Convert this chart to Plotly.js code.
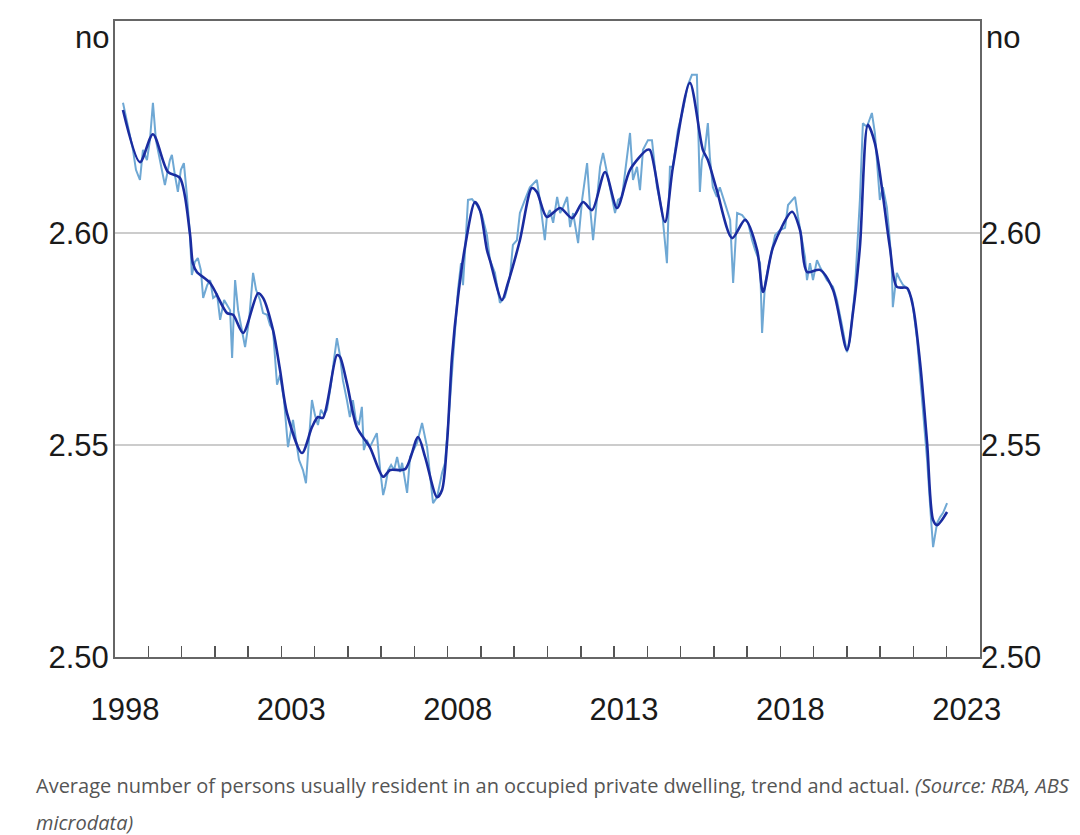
<!DOCTYPE html>
<html>
<head>
<meta charset="utf-8">
<script src="https://cdn.plot.ly/plotly-3.0.1.min.js"></script>
<style>
  html, body { margin: 0; padding: 0; background: #ffffff; }
  #chart { width: 1080px; height: 835px; }
</style>
</head>
<body>
<div id="chart"></div>
<script>
// Trend series (decimal year, persons per dwelling)
const trendYears = [1998.24, 1998.75, 1999.14, 1999.59, 1999.95, 2000.25, 2000.34, 2000.46, 2000.86, 2001.37, 2001.55, 2001.85, 2002.30, 2002.45, 2002.75, 2002.96, 2003.17, 2003.62, 2003.92, 2004.10, 2004.25, 2004.67, 2004.76, 2004.97, 2005.27, 2005.66, 2006.06, 2006.27, 2006.72, 2007.11, 2007.32, 2007.68, 2007.83, 2007.98, 2008.13, 2008.31, 2008.52, 2008.82, 2008.97, 2009.18, 2009.27, 2009.63, 2009.81, 2010.17, 2010.53, 2010.68, 2010.98, 2011.38, 2011.74, 2012.07, 2012.34, 2012.73, 2013.09, 2013.48, 2013.99, 2014.08, 2014.53, 2014.77, 2015.28, 2015.67, 2015.82, 2016.09, 2016.55, 2016.94, 2017.30, 2017.48, 2017.78, 2018.35, 2018.59, 2018.80, 2019.19, 2019.58, 2020.00, 2020.18, 2020.39, 2020.63, 2020.84, 2021.29, 2021.50, 2021.81, 2021.99, 2022.20, 2022.41, 2022.59, 2022.71, 2023.01];
const trendValues = [2.6290, 2.6167, 2.6233, 2.6144, 2.6130, 2.6000, 2.5929, 2.5908, 2.5882, 2.5811, 2.5807, 2.5764, 2.5858, 2.5847, 2.5771, 2.5677, 2.5575, 2.5481, 2.5542, 2.5566, 2.5564, 2.5712, 2.5708, 2.5646, 2.5542, 2.5495, 2.5425, 2.5441, 2.5443, 2.5519, 2.5472, 2.5377, 2.5394, 2.5505, 2.5708, 2.5849, 2.5967, 2.6073, 2.6054, 2.5960, 2.5936, 2.5842, 2.5882, 2.5983, 2.6106, 2.6097, 2.6038, 2.6059, 2.6035, 2.6073, 2.6054, 2.6144, 2.6059, 2.6149, 2.6196, 2.6196, 2.6026, 2.6156, 2.6354, 2.6196, 2.6172, 2.6101, 2.5988, 2.6031, 2.5960, 2.5861, 2.5967, 2.6050, 2.6007, 2.5908, 2.5913, 2.5866, 2.5724, 2.5811, 2.5967, 2.6255, 2.6212, 2.5967, 2.5873, 2.5870, 2.5825, 2.5693, 2.5505, 2.5323, 2.5311, 2.5342];

// Actual series
const actualYears = [1998.24, 1998.39, 1998.54, 1998.63, 1998.75, 1998.84, 1998.96, 1999.05, 1999.14, 1999.23, 1999.35, 1999.50, 1999.65, 1999.71, 1999.80, 1999.89, 1999.98, 2000.07, 2000.16, 2000.25, 2000.31, 2000.40, 2000.49, 2000.58, 2000.65, 2000.77, 2000.86, 2000.95, 2001.07, 2001.16, 2001.28, 2001.37, 2001.46, 2001.52, 2001.61, 2001.70, 2001.82, 2001.91, 2002.03, 2002.15, 2002.24, 2002.36, 2002.45, 2002.57, 2002.66, 2002.75, 2002.87, 2002.96, 2003.08, 2003.20, 2003.29, 2003.35, 2003.44, 2003.53, 2003.65, 2003.74, 2003.83, 2003.92, 2004.01, 2004.10, 2004.19, 2004.28, 2004.37, 2004.49, 2004.58, 2004.67, 2004.76, 2004.85, 2004.97, 2005.06, 2005.15, 2005.24, 2005.33, 2005.42, 2005.48, 2005.57, 2005.66, 2005.78, 2005.87, 2005.97, 2006.06, 2006.12, 2006.21, 2006.30, 2006.39, 2006.48, 2006.57, 2006.63, 2006.78, 2006.87, 2007.08, 2007.23, 2007.38, 2007.56, 2007.68, 2007.83, 2007.92, 2008.07, 2008.22, 2008.31, 2008.40, 2008.46, 2008.55, 2008.61, 2008.73, 2008.88, 2009.03, 2009.18, 2009.27, 2009.42, 2009.57, 2009.72, 2009.87, 2009.96, 2010.08, 2010.17, 2010.32, 2010.47, 2010.68, 2010.77, 2010.92, 2010.98, 2011.07, 2011.17, 2011.29, 2011.38, 2011.47, 2011.59, 2011.68, 2011.77, 2011.92, 2012.04, 2012.19, 2012.28, 2012.37, 2012.58, 2012.67, 2012.88, 2013.03, 2013.12, 2013.24, 2013.33, 2013.48, 2013.57, 2013.69, 2013.78, 2013.87, 2014.02, 2014.14, 2014.29, 2014.44, 2014.59, 2014.68, 2014.77, 2014.92, 2015.07, 2015.22, 2015.34, 2015.49, 2015.58, 2015.64, 2015.73, 2015.82, 2015.88, 2015.97, 2016.09, 2016.18, 2016.33, 2016.49, 2016.58, 2016.70, 2016.85, 2017.03, 2017.15, 2017.24, 2017.39, 2017.45, 2017.54, 2017.69, 2017.84, 2017.99, 2018.14, 2018.23, 2018.35, 2018.44, 2018.53, 2018.65, 2018.74, 2018.80, 2018.89, 2018.98, 2019.10, 2019.19, 2019.40, 2019.58, 2019.70, 2019.85, 2020.00, 2020.09, 2020.24, 2020.39, 2020.48, 2020.60, 2020.75, 2020.84, 2020.93, 2020.99, 2021.08, 2021.20, 2021.29, 2021.35, 2021.38, 2021.50, 2021.60, 2021.69, 2021.81, 2021.96, 2022.11, 2022.26, 2022.41, 2022.53, 2022.59, 2022.71, 2022.80, 2022.89, 2023.01];
const actualValues = [2.6307, 2.6255, 2.6196, 2.6149, 2.6125, 2.6196, 2.6172, 2.6219, 2.6307, 2.6219, 2.6172, 2.6113, 2.6172, 2.6184, 2.6137, 2.6097, 2.6149, 2.6165, 2.6090, 2.6000, 2.5901, 2.5932, 2.5941, 2.5913, 2.5847, 2.5877, 2.5889, 2.5847, 2.5854, 2.5795, 2.5842, 2.5830, 2.5818, 2.5705, 2.5889, 2.5818, 2.5771, 2.5731, 2.5795, 2.5906, 2.5866, 2.5842, 2.5811, 2.5807, 2.5783, 2.5771, 2.5642, 2.5665, 2.5606, 2.5495, 2.5535, 2.5559, 2.5512, 2.5465, 2.5441, 2.5410, 2.5512, 2.5606, 2.5571, 2.5547, 2.5583, 2.5571, 2.5583, 2.5642, 2.5700, 2.5752, 2.5712, 2.5653, 2.5606, 2.5566, 2.5606, 2.5559, 2.5547, 2.5590, 2.5488, 2.5512, 2.5495, 2.5512, 2.5528, 2.5441, 2.5382, 2.5401, 2.5441, 2.5453, 2.5441, 2.5472, 2.5436, 2.5458, 2.5387, 2.5472, 2.5505, 2.5552, 2.5495, 2.5363, 2.5377, 2.5434, 2.5458, 2.5606, 2.5771, 2.5866, 2.5929, 2.5877, 2.5995, 2.6078, 2.6080, 2.6066, 2.6042, 2.5995, 2.5936, 2.5906, 2.5835, 2.5849, 2.5896, 2.5972, 2.5983, 2.6047, 2.6078, 2.6108, 2.6125, 2.6078, 2.5983, 2.6038, 2.6054, 2.6024, 2.6085, 2.6047, 2.6061, 2.6085, 2.6014, 2.6047, 2.5976, 2.6078, 2.6165, 2.6061, 2.5983, 2.6156, 2.6189, 2.6108, 2.6047, 2.6078, 2.6085, 2.6142, 2.6236, 2.6125, 2.6156, 2.6101, 2.6196, 2.6219, 2.6219, 2.6108, 2.6054, 2.5929, 2.6156, 2.6156, 2.6243, 2.6290, 2.6349, 2.6373, 2.6373, 2.6097, 2.6172, 2.6196, 2.6259, 2.6179, 2.6108, 2.6085, 2.6108, 2.6071, 2.6031, 2.5882, 2.6047, 2.6042, 2.6024, 2.5983, 2.5960, 2.5929, 2.5764, 2.5882, 2.5936, 2.5995, 2.6007, 2.6012, 2.6066, 2.6078, 2.6085, 2.6038, 2.5983, 2.5943, 2.5889, 2.5929, 2.5889, 2.5936, 2.5920, 2.5889, 2.5873, 2.5842, 2.5783, 2.5719, 2.5748, 2.5866, 2.6078, 2.6259, 2.6250, 2.6283, 2.6236, 2.6142, 2.6078, 2.6108, 2.6061, 2.5983, 2.5913, 2.5825, 2.5906, 2.5889, 2.5877, 2.5870, 2.5842, 2.5748, 2.5606, 2.5465, 2.5323, 2.5259, 2.5316, 2.5330, 2.5340, 2.5363];

// Axis ticks and labels
const yearTicks = [1999, 2000, 2001, 2002, 2003, 2004, 2005, 2006, 2007, 2008, 2009, 2010, 2011, 2012, 2013, 2014, 2015, 2016, 2017, 2018, 2019, 2020, 2021, 2022, 2023];
const yearLabelPos = [1998.3, 2003.3, 2008.3, 2013.3, 2018.3, 2023.6];
const yearLabels = ['1998', '2003', '2008', '2013', '2018', '2023'];
const yTickVals = [2.50, 2.55, 2.60];
const yTickText = ['2.50', '2.55', '2.60'];
const unitLabel = 'no';
const xRange = [1998, 2024];
const yRange = [2.50, 2.65];
const captionMain = 'Average number of persons usually resident in an occupied private dwelling, trend and actual. <i>(Source: RBA, ABS</i>';
const captionTail = '<i>microdata)</i>';

const tickFont = { family: 'Liberation Sans, Arial, sans-serif', size: 31, color: '#1a1a1a' };
const captionFont = { family: 'Open Sans, sans-serif', size: 20, color: '#555555' };

const traces = [
  {
    x: actualYears, y: actualValues, type: 'scatter', mode: 'lines',
    line: { color: '#6fa8d4', width: 2 }, xaxis: 'x', yaxis: 'y',
    hoverinfo: 'x+y', name: 'Actual'
  },
  {
    x: trendYears, y: trendValues, type: 'scatter', mode: 'lines',
    line: { color: '#1a2ca0', width: 2.6, shape: 'spline', smoothing: 0.8 }, xaxis: 'x2', yaxis: 'y2',
    hoverinfo: 'x+y', name: 'Trend'
  }
];

const layout = {
  width: 1080, height: 835,
  margin: { l: 115, r: 100, t: 21, b: 178 },
  paper_bgcolor: '#ffffff', plot_bgcolor: '#ffffff',
  showlegend: false,
  xaxis: {
    range: xRange, tickmode: 'array', tickvals: yearTicks, showticklabels: false,
    ticks: 'inside', ticklen: 11, tickwidth: 1.5, tickcolor: '#555555',
    showline: true, mirror: true, linecolor: '#666666', linewidth: 2,
    showgrid: false, zeroline: false, fixedrange: true
  },
  xaxis2: {
    overlaying: 'x', side: 'bottom', range: xRange, tickmode: 'array',
    tickvals: yearLabelPos, ticktext: yearLabels, ticks: '', tickfont: tickFont,
    ticklabelstandoff: 31, showline: false, showgrid: false, zeroline: false, fixedrange: true
  },
  yaxis: {
    range: yRange, tickmode: 'array', tickvals: yTickVals, ticktext: yTickText,
    ticks: '', tickfont: tickFont, ticklabelstandoff: -2,
    showgrid: true, gridcolor: '#cccccc', gridwidth: 1.5,
    showline: true, mirror: true, linecolor: '#666666', linewidth: 2,
    zeroline: false, fixedrange: true
  },
  yaxis2: {
    overlaying: 'y', side: 'right', range: yRange, tickmode: 'array',
    tickvals: yTickVals, ticktext: yTickText, ticks: '', tickfont: tickFont,
    ticklabelstandoff: 0, showgrid: false, showline: false, zeroline: false, fixedrange: true
  },
  annotations: [
    { xref: 'paper', yref: 'paper', x: 0, y: 1, xanchor: 'right', yanchor: 'top',
      xshift: -4, yshift: 3, text: unitLabel, showarrow: false, font: tickFont },
    { xref: 'paper', yref: 'paper', x: 1, y: 1, xanchor: 'left', yanchor: 'top',
      xshift: 4, yshift: 3, text: unitLabel, showarrow: false, font: tickFont },
    { xref: 'paper', yref: 'paper', x: (34 - 115) / 865, y: (657 - 786) / 636,
      xanchor: 'left', yanchor: 'middle', text: captionMain, showarrow: false,
      font: captionFont },
    { xref: 'paper', yref: 'paper', x: (34 - 115) / 865, y: (657 - 822) / 636,
      xanchor: 'left', yanchor: 'middle', text: captionTail, showarrow: false,
      font: captionFont }
  ]
};

Plotly.newPlot('chart', traces, layout, { displayModeBar: false, staticPlot: true });
</script>
</body>
</html>
